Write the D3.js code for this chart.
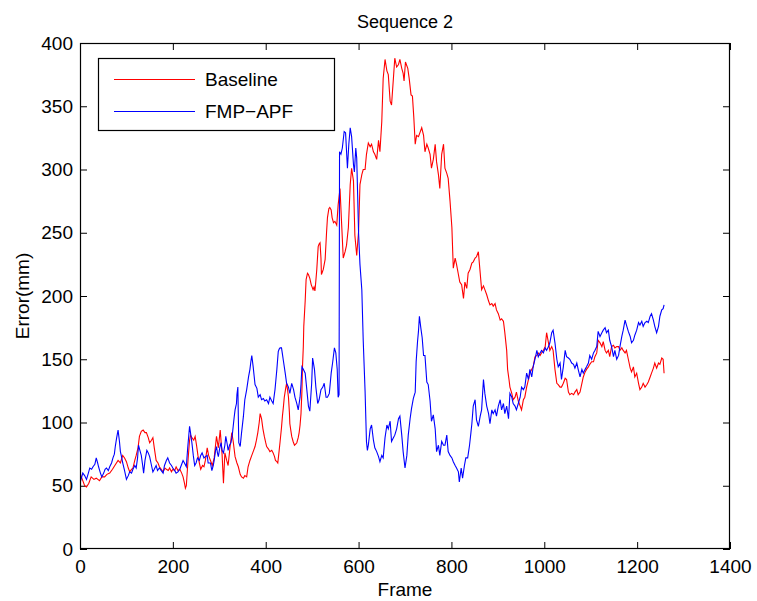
<!DOCTYPE html>
<html><head><meta charset="utf-8">
<script src="https://cdn.jsdelivr.net/npm/d3@7"></script>
<style>
html,body{margin:0;padding:0;background:#fff;}
text{font-family:"Liberation Sans",Arial,Helvetica,sans-serif;}
</style></head>
<body><svg id="chart" width="757" height="601"></svg>
<script>
const title = "Sequence 2";
const xLabel = "Frame";
const yLabel = "Error(mm)";
const seriesNames = ["Baseline", "FMP\u2212APF"];
const xTicks = [0, 200, 400, 600, 800, 1000, 1200, 1400];
const yTicks = [0, 50, 100, 150, 200, 250, 300, 350, 400];

const baseFrames = [0,5,10,14,19,24,30,35,42,47,53,58,64,70,75,82,87,92,96,100,104,107,111,114,118,121,125,128,132,136,140,143,147,150,154,157,160,164,168,171,175,179,183,186,190,193,197,200,204,207,211,215,219,222,225,227,229,233,236,238,241,245,248,251,254,257,260,264,267,270,274,277,281,285,289,294,298,302,306,309,312,316,319,323,327,330,334,338,341,345,348,352,355,359,362,366,370,374,377,380,383,386,388,391,394,397,400,402,406,409,413,416,419,421,424,426,429,431,434,436,438,440,443,445,447,449,451,452,454,456,459,462,465,467,470,472,474,476,478,479,481,482,485,487,490,492,495,498,500,502,504,506,508,510,513,515,517,519,520,522,524,526,528,531,533,536,538,541,543,546,549,553,556,560,563,567,571,574,578,582,585,589,592,596,600,603,607,610,614,617,621,625,628,632,635,639,643,646,650,653,657,661,664,668,671,675,678,682,686,689,693,696,698,701,706,709,713,716,719,722,725,729,732,736,740,743,747,750,754,757,761,765,768,772,775,779,783,786,790,793,797,801,804,808,811,815,818,822,826,829,833,836,840,844,847,851,854,858,862,865,869,872,876,880,883,887,890,894,897,901,905,908,912,915,919,921,924,926,930,933,937,940,944,948,951,955,958,962,966,969,973,976,980,984,987,991,994,998,1002,1005,1009,1012,1016,1019,1023,1027,1030,1034,1037,1041,1045,1048,1052,1055,1059,1063,1066,1070,1073,1077,1081,1084,1088,1091,1095,1098,1102,1106,1109,1113,1116,1120,1124,1127,1131,1134,1138,1141,1145,1149,1152,1156,1160,1163,1167,1170,1174,1177,1181,1185,1188,1192,1195,1199,1203,1206,1210,1213,1217,1221,1224,1228,1231,1235,1238,1242,1246,1249,1253,1256,1258];
const baseError = [60,55,50,49,52,57,55,56,54,57,57,59,60,63,66,70,68,74,72,69,64,61,63,64,70,74,80,89,93,94,92,92,88,84,86,88,80,70,68,65,63,61,64,63,62,64,61,63,62,65,62,63,60,57,52,48,50,72,86,90,88,86,89,82,74,68,63,66,65,70,80,74,70,66,72,89,80,94,75,52,76,70,66,80,92,85,73,68,65,59,57,56,58,57,65,70,74,78,81,86,92,100,107,103,95,89,84,81,79,77,78,76,73,70,69,68,78,85,96,105,112,120,127,131,126,120,108,99,94,89,85,82,83,84,88,92,98,107,125,142,160,176,196,213,218,217,214,209,207,205,207,204,212,221,239,241,242,230,217,219,221,225,229,250,262,269,270,268,262,258,259,256,272,285,261,230,235,240,254,288,301,291,248,232,251,288,296,300,300,312,321,318,320,314,312,308,323,314,338,372,387,378,375,354,351,372,388,381,383,387,380,376,370,385,380,372,359,358,341,320,327,326,329,333,327,314,320,317,312,301,308,320,306,296,285,312,320,301,297,293,275,254,222,230,225,217,211,209,198,211,206,218,221,226,227,230,231,235,218,205,208,205,201,196,193,194,192,194,189,186,181,182,180,171,157,142,134,128,123,118,120,124,117,113,110,118,120,128,134,139,142,144,152,153,155,153,155,157,160,171,163,157,160,157,142,131,130,128,128,131,135,134,124,122,123,122,124,126,122,124,131,136,140,142,144,146,148,148,152,155,165,163,160,164,157,155,157,152,160,161,159,160,160,157,159,157,155,157,150,143,140,144,136,139,131,126,128,131,128,130,132,136,139,143,147,143,147,146,151,150,139];

const apfFrames = [0,3,6,10,14,18,21,25,28,32,35,38,40,44,47,51,54,57,61,64,68,71,74,76,79,82,85,87,90,92,96,100,104,107,111,114,118,121,124,126,129,132,135,137,140,144,147,150,154,157,160,164,167,171,175,179,182,186,189,193,197,200,204,207,211,215,218,222,225,229,232,236,238,241,244,247,250,253,257,260,263,267,270,274,276,281,284,287,289,292,294,296,298,301,304,306,309,312,314,317,319,322,325,328,330,332,334,337,338,340,341,342,345,348,352,355,359,363,366,368,370,373,375,377,381,384,388,391,395,398,402,406,409,413,416,420,422,424,427,429,431,434,436,438,442,445,449,452,456,460,463,467,470,474,476,478,481,485,488,492,495,499,501,505,508,512,515,519,523,526,530,533,537,541,544,548,551,554,556,558,559,562,565,569,572,576,579,582,585,589,591,594,596,598,600,603,607,610,614,617,619,621,625,628,632,635,639,643,646,650,653,657,661,664,668,671,675,678,682,686,689,693,696,700,704,707,711,714,718,722,724,727,729,731,734,737,740,743,747,750,754,757,761,765,768,772,775,779,783,786,790,793,797,801,804,808,811,815,817,821,824,828,831,835,839,842,844,847,851,854,858,862,865,869,872,876,880,883,887,890,894,897,901,905,908,912,915,919,923,926,930,933,937,940,944,948,951,955,958,962,966,969,973,976,980,984,987,991,994,998,1002,1005,1009,1012,1016,1019,1023,1027,1030,1034,1037,1041,1045,1048,1052,1055,1059,1063,1066,1070,1073,1077,1081,1084,1088,1091,1095,1098,1102,1106,1109,1113,1116,1120,1124,1127,1131,1134,1138,1141,1145,1149,1152,1156,1160,1163,1167,1170,1174,1177,1181,1185,1188,1192,1195,1199,1203,1206,1210,1213,1217,1221,1224,1228,1231,1235,1238,1242,1246,1249,1253,1256,1258];
const apfError = [52,56,60,58,55,60,64,63,65,67,72,68,65,60,57,60,63,64,62,65,68,72,75,81,88,94,85,77,72,68,62,55,58,61,60,63,66,64,72,82,78,74,66,60,70,78,76,73,66,61,63,66,62,64,62,60,66,70,72,68,66,64,62,60,61,63,66,70,68,65,80,97,92,84,74,66,68,72,70,74,76,72,73,74,68,68,62,66,70,78,81,76,73,80,84,78,76,82,89,83,78,82,84,90,97,104,110,115,122,128,105,84,81,92,105,118,126,136,142,148,153,144,137,130,127,120,122,118,119,117,118,115,120,117,115,126,134,142,156,158,159,159,154,149,139,131,128,123,131,126,120,115,110,120,130,144,142,139,128,113,109,131,151,142,128,115,118,126,128,131,120,120,123,139,147,159,155,142,120,122,314,312,317,330,329,301,320,333,326,304,298,317,309,280,250,225,205,165,125,85,78,82,95,98,86,80,77,73,69,74,72,88,98,95,101,85,88,90,95,103,105,90,77,64,74,90,103,111,119,124,148,164,172,184,175,167,153,153,132,130,117,101,106,95,77,82,74,85,82,82,90,77,74,72,69,66,64,61,53,64,56,66,72,72,82,92,99,113,118,102,97,105,110,134,123,113,107,99,110,107,110,105,113,118,110,115,107,113,103,123,120,115,113,110,115,120,128,126,128,139,134,142,136,144,150,157,152,155,157,155,159,157,160,163,171,173,163,150,144,147,134,144,157,152,151,150,147,146,143,147,142,136,142,139,142,144,147,153,150,155,157,160,172,168,171,173,175,171,173,165,160,152,157,150,153,160,168,173,181,177,172,168,163,165,169,173,179,177,180,176,179,180,179,184,186,181,176,171,176,184,189,190,193];

const svg = d3.select("#chart");
const W = 757, H = 601;
const pL = 80, pR = 730, pT = 43, pB = 549;

const x = d3.scaleLinear().domain([0, 1400]).range([pL, pR]);
const y = d3.scaleLinear().domain([0, 400]).range([pB, pT]);

svg.append("rect").attr("width", W).attr("height", H).attr("fill", "#fff");

const fs = 19;
const axisStyle = g => {
  g.selectAll(".domain").remove();
  g.selectAll("line").attr("stroke", "#000").attr("stroke-width", 1);
  g.selectAll("text").attr("fill", "#000").style("font-size", fs + "px")
    .style("font-family", '"Liberation Sans", Arial, sans-serif');
};

svg.append("g").attr("transform", `translate(0,${pB})`)
  .call(d3.axisBottom(x).tickValues(xTicks).tickSize(-7).tickPadding(11).tickFormat(d3.format("d")))
  .call(axisStyle);
svg.append("g").attr("transform", `translate(0,${pT})`)
  .call(d3.axisTop(x).tickValues(xTicks).tickSize(-7).tickFormat(""))
  .call(axisStyle);
svg.append("g").attr("transform", `translate(${pL},0)`)
  .call(d3.axisLeft(y).tickValues(yTicks).tickSize(-7).tickPadding(7).tickFormat(d3.format("d")))
  .call(axisStyle);
svg.append("g").attr("transform", `translate(${pR},0)`)
  .call(d3.axisRight(y).tickValues(yTicks).tickSize(-7).tickFormat(""))
  .call(axisStyle);

const line = d3.line().x(d => x(d[0])).y(d => y(d[1]));
const baseData = baseFrames.map((f, i) => [f, baseError[i]]);
const apfData = apfFrames.map((f, i) => [f, apfError[i]]);

svg.append("clipPath").attr("id", "clip").append("rect")
  .attr("x", pL).attr("y", pT).attr("width", pR - pL).attr("height", pB - pT);

svg.append("path").datum(baseData).attr("d", line).attr("fill", "none")
  .attr("stroke", "#ff0000").attr("stroke-width", 1.1).attr("clip-path", "url(#clip)");
svg.append("path").datum(apfData).attr("d", line).attr("fill", "none")
  .attr("stroke", "#0000ff").attr("stroke-width", 1.1).attr("clip-path", "url(#clip)");

svg.append("rect").attr("x", pL + 0.5).attr("y", pT + 0.5)
  .attr("width", pR - pL - 1).attr("height", pB - pT - 1)
  .attr("fill", "none").attr("stroke", "#000").attr("stroke-width", 1.2);

// legend
const lg = svg.append("g");
lg.append("rect").attr("x", 98.5).attr("y", 58.5).attr("width", 236).attr("height", 72)
  .attr("fill", "#fff").attr("stroke", "#000").attr("stroke-width", 1.2);
const colors = ["#ff0000", "#0000ff"];
seriesNames.forEach((n, i) => {
  const yy = 79 + i * 32;
  lg.append("line").attr("x1", 114).attr("x2", 195).attr("y1", yy + 0.5).attr("y2", yy + 0.5)
    .attr("stroke", colors[i]).attr("stroke-width", 1);
  lg.append("text").attr("x", 205).attr("y", yy).attr("dy", "0.36em")
    .style("font-size", fs + "px").text(n);
});

svg.append("text").attr("x", (pL + pR) / 2).attr("y", 28).attr("text-anchor", "middle")
  .style("font-size", "18px").text(title);
svg.append("text").attr("x", (pL + pR) / 2).attr("y", 596).attr("text-anchor", "middle")
  .style("font-size", fs + "px").text(xLabel);
svg.append("text").attr("transform", `translate(29,${(pT + pB) / 2}) rotate(-90)`)
  .attr("text-anchor", "middle").style("font-size", fs + "px").text(yLabel);
</script></body></html>
